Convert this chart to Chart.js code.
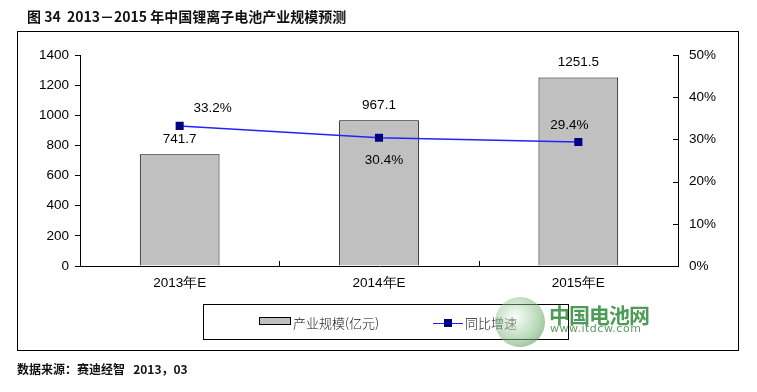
<!DOCTYPE html>
<html>
<head>
<meta charset="utf-8">
<script src="https://cdn.jsdelivr.net/npm/chart.js@4.4.0/dist/chart.umd.min.js"></script>
<style>
  body { margin: 0; background: #fff; }
  #wrap { position: relative; width: 757px; height: 392px; overflow: hidden; }
  #chart { position: absolute; left: 0; top: 0; }
  .title { position: absolute; left: 27px; top: 6px; font: bold 14px "Noto Sans CJK SC", sans-serif; color: #111; white-space: nowrap; }
  .frame { position: absolute; left: 17px; top: 31px; width: 720px; height: 318px; border: 1px solid #000; }
  .source { position: absolute; left: 17px; top: 360px; font: bold 12px "Noto Sans CJK SC", sans-serif; color: #111; white-space: nowrap; }
  .legend { position: absolute; left: 203px; top: 304px; width: 364px; height: 34px; border: 1px solid #000; font: 300 13px "Noto Sans CJK SC", sans-serif; color: #111; }
  .legend .item { position: absolute; top: 8px; white-space: nowrap; }
  .swatch { display: inline-block; width: 30px; height: 6px; background: #c0c0c0; border: 1px solid #000; vertical-align: 3px; margin-right: 2px; }
  .lineMark { display: inline-block; position: relative; width: 30px; height: 8px; vertical-align: 1px; margin-right: 2px; }
  .lineMark:before { content: ""; position: absolute; left: 0; right: 0; top: 4px; height: 1px; background: #2323ff; }
  .lineMark:after { content: ""; position: absolute; left: 11px; top: 0; width: 8px; height: 8px; background: #000080; }
  .globe { position: absolute; left: 495px; top: 297px; width: 50px; height: 50px; border-radius: 50%;
    background: radial-gradient(circle at 40% 40%, rgba(240,250,240,0.35), rgba(120,180,120,0.55) 60%, rgba(60,130,60,0.7)); }
  .wm1 { position: absolute; left: 549px; top: 299px; font: bold 21px "Noto Sans CJK SC", sans-serif; color: #2f8a3a; letter-spacing: -1px; opacity: 0.85; }
  .wm2 { position: absolute; left: 550px; top: 322px; font: 11px "DejaVu Sans", sans-serif; color: #3e8a45; letter-spacing: 0.5px; opacity: 0.85; }
</style>
</head>
<body>
<div id="wrap">
  <canvas id="chart" width="757" height="392"></canvas>
  <div class="title">图 34&nbsp; 2013－2015 年中国锂离子电池产业规模预测</div>
  <div class="frame"></div>
  <div class="legend">
    <span class="item" style="left:55px"><span class="swatch"></span>产业规模(亿元)</span>
    <span class="item" style="left:229px"><span class="lineMark"></span>同比增速</span>
  </div>
  <div class="globe"></div>
  <div class="wm1">中国电池网</div>
  <div class="wm2">www.itdcw.com</div>
  <div class="source">数据来源：赛迪经智&nbsp;&nbsp; 2013，03</div>
</div>
<script>
// chart data
const categories = ["2013年E", "2014年E", "2015年E"];
const scaleValues = [741.7, 967.1, 1251.5];   // 产业规模(亿元)
const growthValues = [33.2, 30.4, 29.4];      // 同比增速 (%)

const tickFont = { family: "Liberation Sans, Arial, sans-serif", size: 13.5 };

// draws value labels and the inward tick marks
const extrasPlugin = {
  id: "extras",
  afterDatasetsDraw(chart) {
    const ctx = chart.ctx;
    const area = chart.chartArea;
    ctx.save();
    ctx.strokeStyle = "#000";
    ctx.lineWidth = 1;

    // inward ticks on right axis
    const y1 = chart.scales.y1;
    y1.ticks.forEach((t, i) => {
      const py = Math.round(y1.getPixelForTick(i)) + 0.5;
      ctx.beginPath();
      ctx.moveTo(area.right - 5, py);
      ctx.lineTo(area.right, py);
      ctx.stroke();
    });

    // inward ticks between categories on x axis
    const x = chart.scales.x;
    for (let i = 1; i < categories.length; i++) {
      const px = Math.round((x.getPixelForValue(i - 1) + x.getPixelForValue(i)) / 2) + 0.5;
      ctx.beginPath();
      ctx.moveTo(px, area.bottom - 5);
      ctx.lineTo(px, area.bottom);
      ctx.stroke();
    }

    ctx.font = "13.5px Liberation Sans, Arial, sans-serif";
    ctx.fillStyle = "#000";
    ctx.textAlign = "center";
    ctx.textBaseline = "middle";

    // bar labels
    chart.getDatasetMeta(0).data.forEach((bar, i) => {
      ctx.fillText(scaleValues[i].toFixed(1), bar.x, bar.y - 15);
    });

    // line labels, placed like the original
    const offs = [[33, -18], [5, 23], [-9, -17]];
    chart.getDatasetMeta(1).data.forEach((pt, i) => {
      ctx.fillText(growthValues[i].toFixed(1) + "%", pt.x + offs[i][0], pt.y + offs[i][1]);
    });
    ctx.restore();
  }
};

new Chart(document.getElementById("chart"), {
  data: {
    labels: categories,
    datasets: [
      {
        type: "bar",
        label: "产业规模(亿元)",
        data: scaleValues,
        backgroundColor: "#c0c0c0",
        borderColor: "#000",
        borderWidth: 1,
        barPercentage: 0.4,
        categoryPercentage: 1,
        yAxisID: "y",
        order: 2
      },
      {
        type: "line",
        label: "同比增速",
        data: growthValues,
        borderColor: "#2323ff",
        borderWidth: 1.5,
        backgroundColor: "#000080",
        pointStyle: "rect",
        pointRadius: 5.7,
        pointBorderColor: "#000080",
        pointBackgroundColor: "#000080",
        pointBorderWidth: 0,
        tension: 0,
        yAxisID: "y1",
        order: 1
      }
    ]
  },
  options: {
    responsive: false,
    animation: false,
    layout: { padding: { top: 55, bottom: 96, left: 0, right: 0 } },
    plugins: {
      legend: { display: false },
      tooltip: { enabled: false }
    },
    scales: {
      x: {
        offset: true,
        grid: { display: true, drawOnChartArea: false, drawTicks: false },
        border: { color: "#000", width: 1 },
        ticks: { font: tickFont, color: "#000", padding: 9 },
        afterFit: s => { s.height = 30; }
      },
      y: {
        position: "left",
        min: 0,
        max: 1400,
        grid: { drawOnChartArea: false, drawTicks: true, tickLength: 5, color: "#000" },
        border: { color: "#000", width: 1 },
        ticks: { stepSize: 200, font: tickFont, color: "#000", padding: 6, callback: v => String(v) },
        afterFit: s => { s.width = 80; }
      },
      y1: {
        position: "right",
        min: 0,
        max: 50,
        grid: { drawOnChartArea: false, drawTicks: false },
        border: { color: "#000", width: 1 },
        ticks: { stepSize: 10, font: tickFont, color: "#000", padding: 11, callback: v => v + "%" },
        afterFit: s => { s.width = 79; }
      }
    }
  },
  plugins: [extrasPlugin]
});
</script>
</body>
</html>
